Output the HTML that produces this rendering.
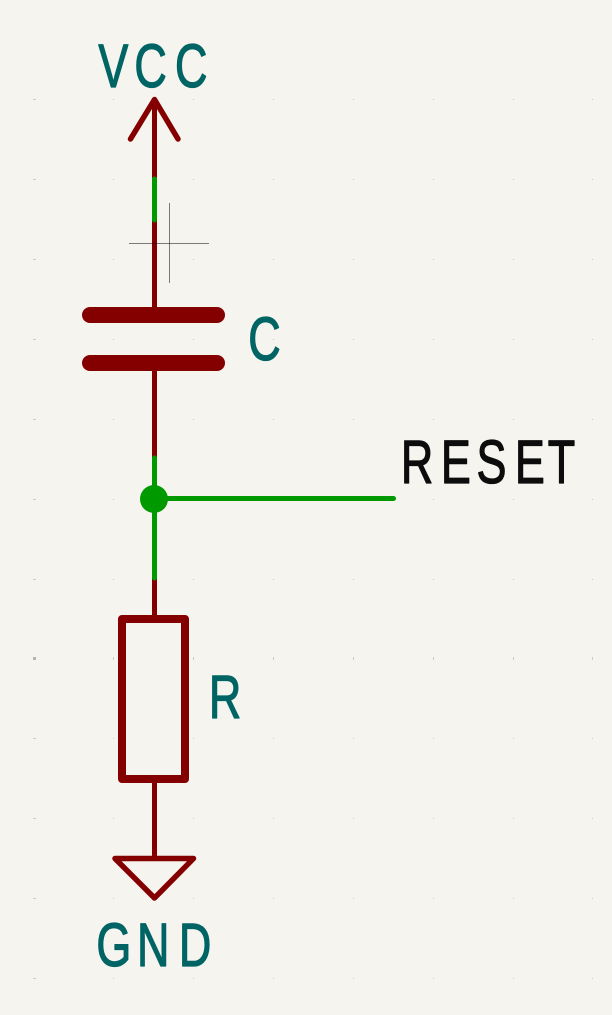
<!DOCTYPE html>
<html lang="en">
<head>
<meta charset="utf-8">
<title>RC reset schematic</title>
<style>
html,body{margin:0;padding:0;background:#f5f4ef;}
body{width:612px;height:1015px;overflow:hidden;}
svg{display:block;}
text{font-family:"Liberation Sans",sans-serif;font-size:61.5px;stroke-width:1.3px;stroke-linejoin:round;}
.ref{fill:#006464;stroke:#006464;}
.net{fill:#0c0c0c;stroke:#0c0c0c;}
</style>
</head>
<body>
<svg id="schematic" width="612" height="1015" viewBox="0 0 612 1015" xmlns="http://www.w3.org/2000/svg">
  <rect x="0" y="0" width="612" height="1015" fill="#f5f4ef"/>
  <g id="grid"></g>

  <g fill="none" stroke-width="5">
    <line x1="154.5" y1="100" x2="154.5" y2="178" stroke="#840000"/>
    <line x1="154.5" y1="220" x2="154.5" y2="310" stroke="#840000"/>
    <line x1="154.5" y1="368" x2="154.5" y2="458" stroke="#840000"/>
    <line x1="154.5" y1="578" x2="154.5" y2="618" stroke="#840000"/>
    <line x1="154.5" y1="780" x2="154.5" y2="858" stroke="#840000"/>
    <line x1="154.5" y1="179" x2="154.5" y2="220" stroke="#009900" stroke-linecap="round"/>
    <line x1="154.5" y1="458" x2="154.5" y2="578" stroke="#009900" stroke-linecap="round"/>
    <line x1="154.5" y1="498.5" x2="393.5" y2="498.5" stroke="#009900" stroke-linecap="round"/>
  </g>
  <circle cx="154" cy="499" r="14" fill="#009900"/>

  <polyline points="130.5,139 154.5,99.5 178,139" fill="none" stroke="#840000" stroke-width="5.5" stroke-linecap="round" stroke-linejoin="round"/>
  <line x1="90" y1="315" x2="217" y2="315" stroke="#840000" stroke-width="16" stroke-linecap="round"/>
  <line x1="90" y1="363" x2="217" y2="363" stroke="#840000" stroke-width="16" stroke-linecap="round"/>
  <rect x="122" y="619" width="63" height="160" fill="none" stroke="#840000" stroke-width="8" stroke-linejoin="round"/>
  <polygon points="115,858.5 193.5,858.5 154.5,898" fill="none" stroke="#840000" stroke-width="5.5" stroke-linejoin="round"/>

  <text class="ref" transform="translate(0,87) scale(.73,1)" x="134.8 184 239.8" y="0">VCC</text>
  <text class="ref" transform="translate(0,360) scale(.73,1)" x="340.1" y="0">C</text>
  <text class="net" transform="translate(0,483) scale(.73,1)" x="549.2 604 652.7 705.3 750.3" y="0">RESET</text>
  <text class="ref" transform="translate(0,718) scale(.73,1)" x="286.1" y="0">R</text>
  <text class="ref" transform="translate(0,966) scale(.73,1)" x="132 187.6 245.1" y="0">GND</text>

  <g stroke="#000" stroke-opacity=".5" stroke-width="1">
    <line x1="129" y1="243.5" x2="209" y2="243.5"/>
    <line x1="169.5" y1="203" x2="169.5" y2="283"/>
  </g>
</svg>
<script>
const gridColumns = [34, 113, 193, 273, 353, 433, 513, 592];
const gridRows = [99, 179, 259, 339, 419, 499, 579, 658, 738, 818, 898, 978];
const gridLayer = document.getElementById('grid');
for (const col of gridColumns) {
  for (const row of gridRows) {
    const wide = col === gridColumns[0];
    const tall = row === gridRows[7];
    const dot = document.createElementNS('http://www.w3.org/2000/svg', 'rect');
    
    
    dot.setAttribute('x', wide ? col - 1 : col);
    dot.setAttribute('y', tall ? row - 1 : row);
    dot.setAttribute('width', wide ? 3 : 1);
    dot.setAttribute('height', tall ? 3 : 1);
    dot.setAttribute('fill', wide && tall ? '#b4b4b0' : '#cbcbc7');
    gridLayer.appendChild(dot);
  }
}
</script>
</body>
</html>
